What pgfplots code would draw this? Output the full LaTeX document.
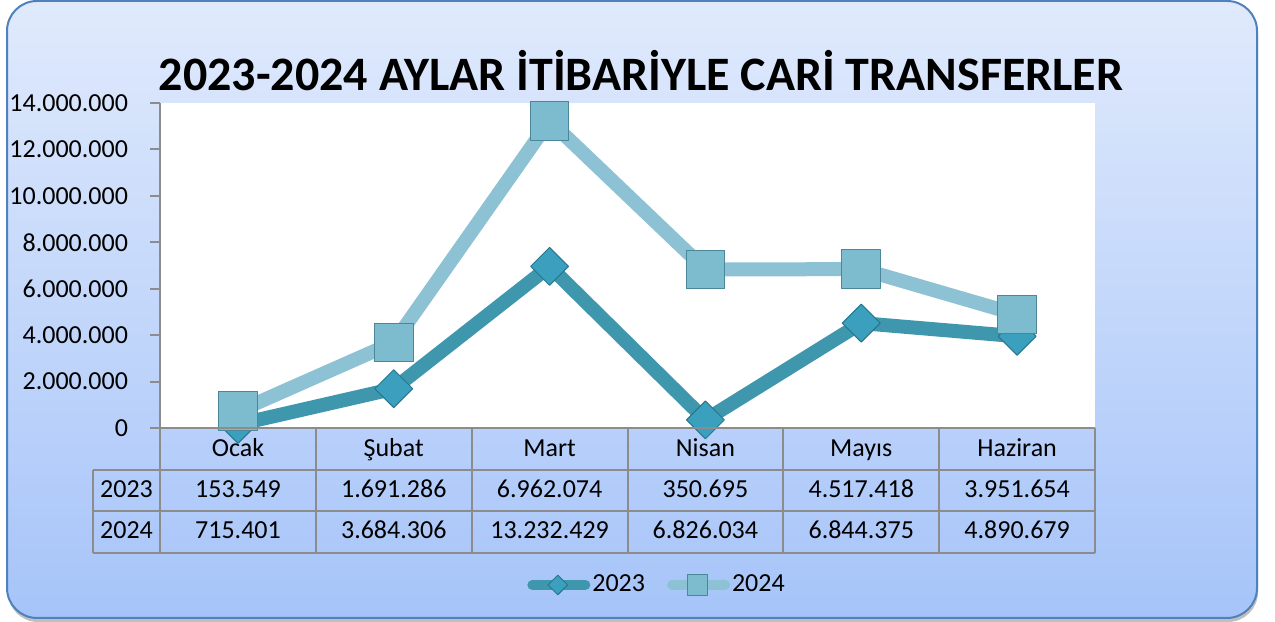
\documentclass[border=0pt]{standalone}
\usepackage{fontspec}
\setmainfont{Carlito}
\usepackage{pgfplots}
\pgfplotsset{compat=1.18}
\definecolor{cA}{RGB}{63,151,174}
\definecolor{cB}{RGB}{141,193,212}
\definecolor{mA}{RGB}{58,160,190}
\definecolor{mAd}{RGB}{40,118,140}
\definecolor{mB}{RGB}{125,188,207}
\definecolor{mBd}{RGB}{75,135,152}
\definecolor{bgtop}{RGB}{224,234,252}
\definecolor{bgbot}{RGB}{166,196,249}
\definecolor{framec}{RGB}{79,129,189}
\definecolor{gridc}{RGB}{140,140,140}
\newcommand{\tf}{\fontsize{13bp}{15bp}\selectfont}
\begin{document}
\begin{tikzpicture}[x=0.5bp,y=0.5bp]
\useasboundingbox (0,0) rectangle (1275,622);
\fill[black!25, rounded corners=15bp] (8,0) rectangle (1258,617);
\shade[top color=bgtop, bottom color=bgbot, rounded corners=15bp] (7,4) rectangle (1257,621);
\draw[framec, line width=1bp, rounded corners=15bp] (7,4) rectangle (1257,621);
\node[font=\fontsize{24bp}{28bp}\selectfont\bfseries] at (641,551) {2023-2024 AYLAR İTİBARİYLE CARİ TRANSFERLER};
\begin{axis}[
  at={(80bp,97bp)}, anchor=south west,
  scale only axis, width=467.5bp, height=162.5bp,
  xmin=-0.5, xmax=5.5, ymin=0, ymax=14000000,
  clip=false,
  hide x axis,
  axis y line*=left,
  y axis line style={gridc, line width=1bp, -},
  ytick={0,2000000,4000000,6000000,8000000,10000000,12000000,14000000},
  ytick pos=left,
  tick align=outside,
  major tick length=5bp,
  tick style={gridc, line width=1bp},
  scaled y ticks=false,
  yticklabel style={font=\tf, color=black, xshift=-7.5bp, /pgf/number format/.cd, fixed, precision=0, 1000 sep={.}, assume math mode=true},
  axis background/.style={fill=white},
  legend style={at={(0.5316,-0.483)}, anchor=center, draw=none, fill=none, font=\tf,
    legend columns=2, inner sep=0pt,
    /tikz/every even column/.append style={column sep=10bp},
    nodes={inner xsep=1bp}},
  legend image code/.code={\draw[mark repeat=2, mark phase=2, #1, line width=5bp, line cap=round, /tikz/every mark/.append style={scale=0.52}] plot coordinates {(1.25bp,0bp)(14bp,0bp)(27.75bp,0bp)};},
]
\addplot[cA, line width=7bp, line join=round, mark=square*, mark size=6.7bp,
  mark options={rotate=45, fill=mA, draw=mAd, line width=0.5bp}]
  coordinates {(0,153549) (1,1691286) (2,6962074) (3,350695) (4,4517418) (5,3951654)};
\addlegendentry{2023}
\addplot[cB, line width=7bp, line join=round, mark=square*, mark size=9.7bp,
  mark options={fill=mB, draw=mBd, line width=0.5bp}]
  coordinates {(0,715401) (1,3684306) (2,13232429) (3,6826034) (4,6844375) (5,4890679)};
\addlegendentry{2024}
\end{axis}
% data table
\draw[gridc, line width=1bp]
  (160,194) -- (1095,194)
  (93,152) -- (1095,152)
  (93,111) -- (1095,111)
  (93,69) -- (1095,69)
  (93,152) -- (93,69);
\foreach \xx in {160,315.83,471.67,627.5,783.33,939.17,1095} {
  \draw[gridc, line width=1bp] (\xx,194) -- (\xx,69);
}
\foreach \xx/\c in {238/Ocak,393.75/Şubat,549.6/Mart,705.4/Nisan,861.25/Mayıs,1017.1/Haziran} {
  \node[font=\tf, anchor=base, inner sep=0pt] at (\xx,165) {\c};
}
\node[font=\tf, anchor=base, inner sep=0pt] at (126.5,124) {2023};
\node[font=\tf, anchor=base, inner sep=0pt] at (126.5,83) {2024};
\foreach \xx/\v in {238/153.549,393.75/1.691.286,549.6/6.962.074,705.4/350.695,861.25/4.517.418,1017.1/3.951.654} {
  \node[font=\tf, anchor=base, inner sep=0pt] at (\xx,124) {\v};
}
\foreach \xx/\v in {238/715.401,393.75/3.684.306,549.6/13.232.429,705.4/6.826.034,861.25/6.844.375,1017.1/4.890.679} {
  \node[font=\tf, anchor=base, inner sep=0pt] at (\xx,83) {\v};
}
\end{tikzpicture}
\end{document}
